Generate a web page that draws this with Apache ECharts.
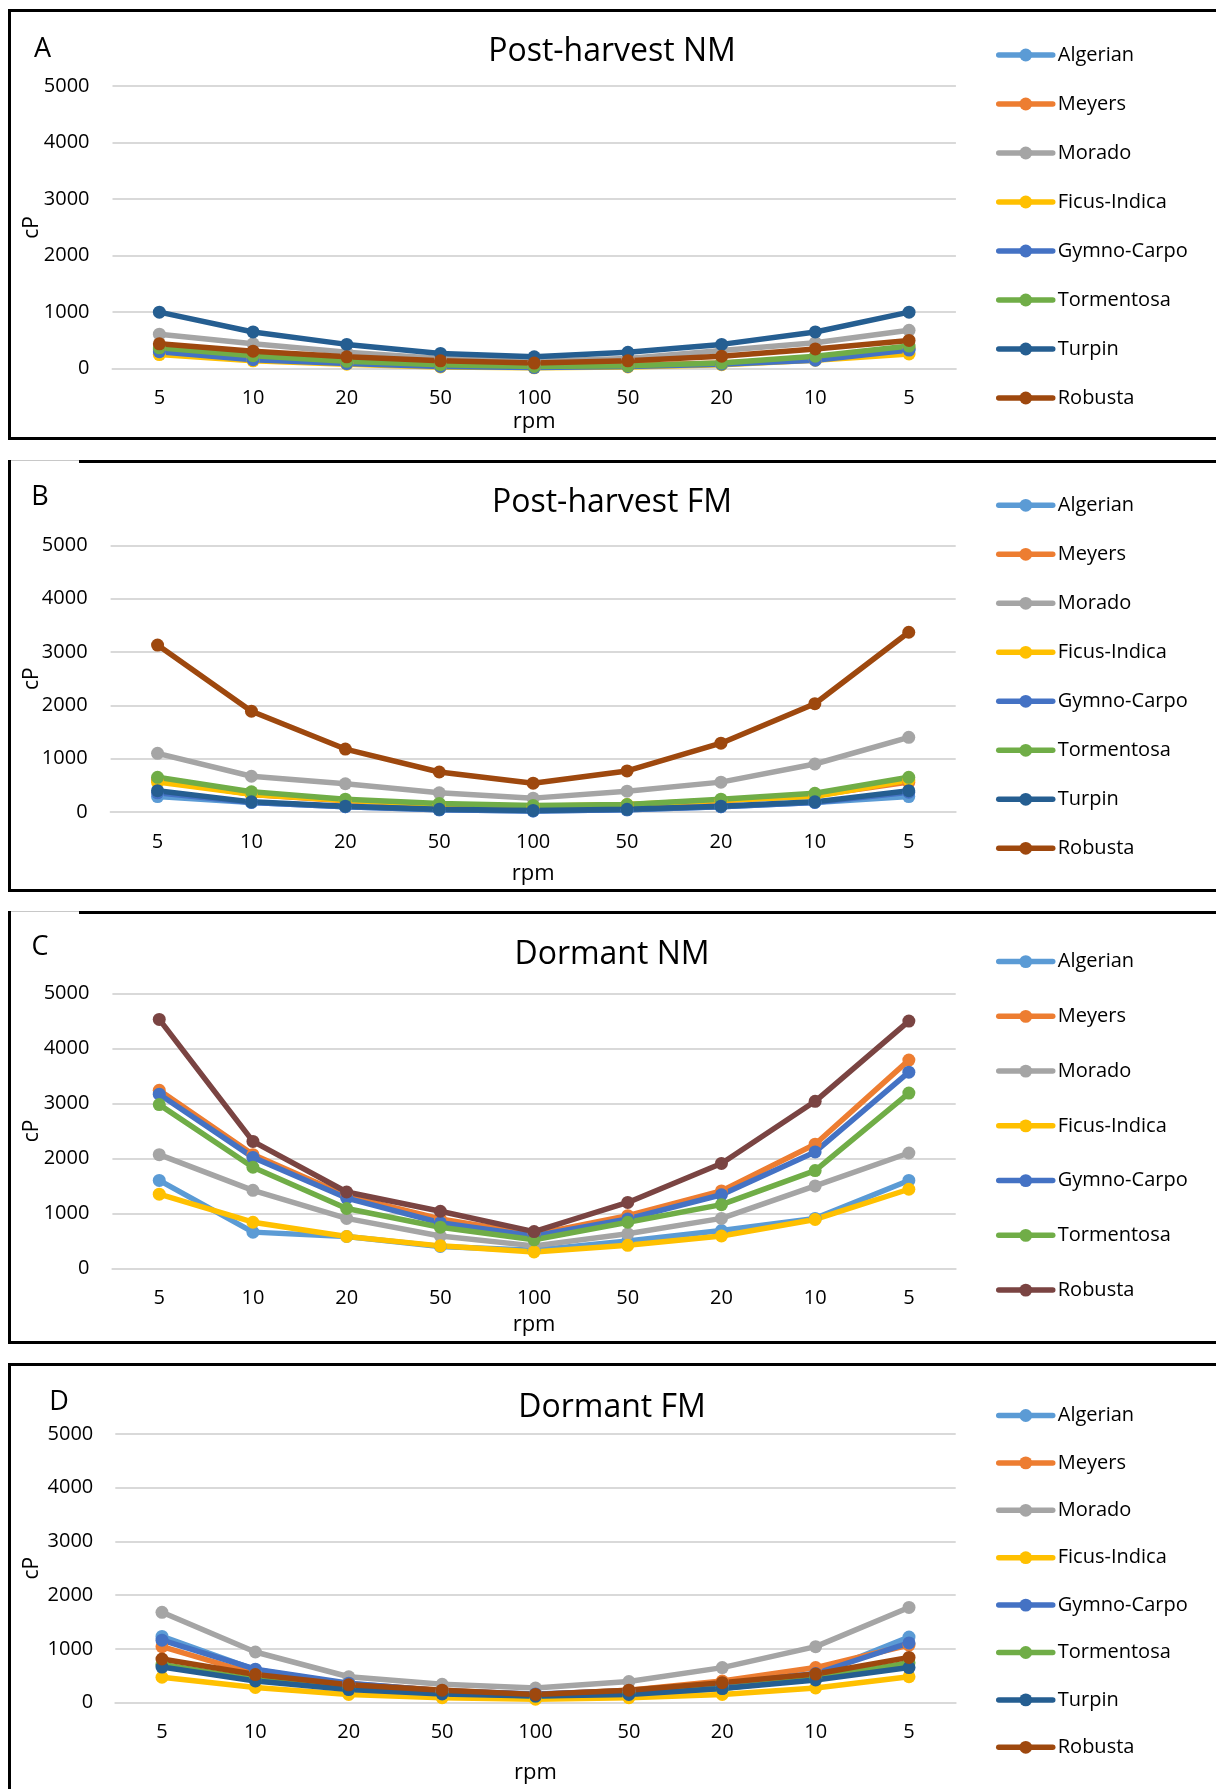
<!DOCTYPE html>
<html>
<head>
<meta charset="utf-8">
<title>Viscosity vs rpm</title>
<script src="https://cdn.jsdelivr.net/npm/echarts@6/dist/echarts.min.js"></script>
<style>
  html, body { margin: 0; padding: 0; background: #fff; width: 1216px; height: 1789px; overflow: hidden; }
  body { position: relative; }
  .box { position: absolute; left: 8px; width: 1300px; border: 3px solid #000; box-sizing: border-box; }
  .gap { position: absolute; left: 11px; width: 68px; height: 3px; background: #fff; border-top: 1px solid #C8C8C8; box-sizing: border-box; }
  .chart { position: absolute; left: 0; width: 1216px; }
</style>
</head>
<body>
<div class="box" style="top:9px;height:431px"></div>
<div class="box" style="top:460px;height:432px"></div>
<div class="gap" style="top:460px"></div>
<div class="box" style="top:911px;height:433px"></div>
<div class="gap" style="top:911px"></div>
<div class="box" style="top:1363px;height:500px"></div>

<div id="panelA" class="chart" style="top:0;height:450px"></div>
<div id="panelB" class="chart" style="top:450px;height:450px"></div>
<div id="panelC" class="chart" style="top:900px;height:450px"></div>
<div id="panelD" class="chart" style="top:1350px;height:439px"></div>

<script>
// Spindle speed sequence (up and back down), rpm
const rpmLabels = ['5', '10', '20', '50', '100', '50', '20', '10', '5'];

// Post-harvest NM (cP)
const algerianA   = [330, 170, 100, 50, 30, 50, 90, 160, 350];
const meyersA     = [350, 190, 110, 60, 40, 60, 100, 180, 370];
const moradoA     = [610, 440, 290, 180, 130, 180, 320, 460, 680];
const ficusA      = [250, 140, 80, 30, 15, 30, 70, 150, 260];
const gymnoA      = [300, 160, 90, 40, 20, 40, 80, 150, 330];
const tormentosaA = [370, 230, 130, 70, 40, 50, 100, 220, 400];
const turpinA     = [1000, 650, 430, 270, 210, 290, 430, 650, 1000];
const robustaA    = [440, 310, 210, 140, 100, 140, 220, 350, 500];

// Post-harvest FM (cP)
const algerianB   = [290, 180, 100, 40, 20, 40, 100, 180, 290];
const meyersB     = [600, 330, 210, 140, 100, 130, 210, 310, 560];
const moradoB     = [1100, 670, 530, 360, 260, 390, 560, 900, 1400];
const ficusB      = [560, 330, 220, 140, 110, 140, 220, 290, 600];
const gymnoB      = [360, 180, 100, 40, 20, 40, 100, 180, 370];
const tormentosaB = [650, 380, 240, 160, 120, 140, 240, 350, 650];
const turpinB     = [400, 190, 110, 50, 30, 50, 110, 190, 400];
const robustaB    = [3130, 1890, 1180, 750, 540, 770, 1290, 2030, 3370];

// Dormant NM (cP)
const algerianC   = [1600, 660, 580, 400, 330, 500, 690, 910, 1600];
const meyersC     = [3240, 2070, 1320, 900, 620, 960, 1410, 2260, 3790];
const moradoC     = [2070, 1420, 910, 590, 410, 630, 910, 1500, 2100];
const ficusC      = [1350, 840, 580, 410, 300, 420, 590, 890, 1440];
const gymnoC      = [3170, 2020, 1280, 830, 590, 900, 1340, 2120, 3570];
const tormentosaC = [2980, 1840, 1090, 750, 520, 840, 1160, 1780, 3190];
const robustaC    = [4530, 2310, 1390, 1040, 670, 1200, 1910, 3040, 4500];

// Dormant FM (cP)
const algerianD   = [1230, 610, 340, 210, 150, 210, 300, 520, 1220];
const meyersD     = [1040, 530, 350, 230, 150, 230, 400, 650, 1070];
const moradoD     = [1680, 940, 480, 340, 270, 390, 650, 1040, 1770];
const ficusD      = [470, 280, 150, 90, 60, 90, 150, 270, 480];
const gymnoD      = [1160, 620, 360, 220, 160, 220, 340, 540, 1110];
const tormentosaD = [710, 430, 260, 180, 120, 170, 260, 450, 740];
const turpinD     = [660, 400, 240, 160, 120, 150, 260, 420, 650];
const robustaD    = [810, 520, 330, 230, 150, 230, 370, 530, 840];

const yTicks = { min: 0, max: 5000, interval: 1000 };

const COLORS = {
  Algerian: '#5B9BD5', Meyers: '#ED7D31', Morado: '#A5A5A5', 'Ficus-Indica': '#FFC000',
  'Gymno-Carpo': '#4472C4', Tormentosa: '#70AD47', Turpin: '#255E91', Robusta: '#9E480E'
};
const FONT = '"Open Sans", "Noto Sans", sans-serif';

function lineSeries(name, data, color) {
  return {
    name, type: 'line', data,
    symbol: 'circle', symbolSize: 13, showAllSymbol: true,
    itemStyle: { color },
    lineStyle: { color, width: 5.5, cap: 'round', join: 'round' },
    emphasis: { disabled: true }
  };
}

function panelOption(p) {
  const names = p.series.map(s => s[0]);
  return {
    animation: false,
    textStyle: { fontFamily: FONT },
    graphic: [
      { type: 'text', x: p.letterX, y: p.letterY,
        style: { text: p.letter, fontSize: 27, fontFamily: FONT, fill: '#000', align: 'center', verticalAlign: 'middle' } },
      { type: 'text', x: 612, y: p.titleY,
        style: { text: p.title, fontSize: 32, fontFamily: FONT, fill: '#000', align: 'center', verticalAlign: 'middle' } }
    ],
    grid: { left: p.gridLeft, top: p.gridTop, width: p.gridWidth, height: p.gridHeight },
    legend: {
      orient: 'vertical', left: 996, top: p.legendTop, padding: 0,
      itemWidth: 54, itemHeight: 16, itemGap: p.legendGap,
      lineStyle: { width: 5.5 },
      textStyle: { fontSize: 20, color: '#000', lineHeight: 20, fontFamily: FONT },
      data: names
    },
    xAxis: {
      type: 'category', data: rpmLabels, boundaryGap: true,
      axisLine: { lineStyle: { color: '#D9D9D9', width: 2 } },
      axisTick: { show: false },
      axisLabel: { color: '#000', fontSize: 20, lineHeight: 20, margin: 20, fontFamily: FONT },
      name: 'rpm', nameLocation: 'middle', nameGap: p.rpmGap, nameMoveOverlap: false,
      nameTextStyle: { fontSize: 22, color: '#000', fontFamily: FONT }
    },
    yAxis: {
      type: 'value', min: yTicks.min, max: yTicks.max, interval: yTicks.interval,
      axisLine: { show: false }, axisTick: { show: false },
      axisLabel: { color: '#000', fontSize: 20, margin: p.yLabelMargin, fontFamily: FONT,
                   formatter: v => String(v) },
      splitLine: { lineStyle: { color: '#D9D9D9', width: 2 } },
      name: 'cP', nameLocation: 'middle', nameRotate: 90, nameGap: p.cpGap, nameMoveOverlap: false,
      nameTextStyle: { fontSize: 21, color: '#000', fontFamily: FONT }
    },
    series: p.series.map(s => lineSeries(s[0], s[1], s[2]))
  };
}

const panels = [
  { id: 'panelA', letter: 'A', letterX: 42.5, letterY: 49, title: 'Post-harvest NM', titleY: 52,
    gridLeft: 112.5, gridTop: 86, gridWidth: 843.4, gridHeight: 282.7,
    legendTop: 45, legendGap: 29, rpmGap: 42, cpGap: 70, yLabelMargin: 23,
    series: [
      ['Algerian', algerianA, COLORS.Algerian], ['Meyers', meyersA, COLORS.Meyers],
      ['Morado', moradoA, COLORS.Morado], ['Ficus-Indica', ficusA, COLORS['Ficus-Indica']],
      ['Gymno-Carpo', gymnoA, COLORS['Gymno-Carpo']], ['Tormentosa', tormentosaA, COLORS.Tormentosa],
      ['Turpin', turpinA, COLORS.Turpin], ['Robusta', robustaA, COLORS.Robusta]
    ] },
  { id: 'panelB', letter: 'B', letterX: 40, letterY: 47.5, title: 'Post-harvest FM', titleY: 53,
    gridLeft: 110.6, gridTop: 95.3, gridWidth: 845.1, gridHeight: 266.7,
    legendTop: 45.3, legendGap: 29, rpmGap: 50.5, cpGap: 68, yLabelMargin: 23,
    series: [
      ['Algerian', algerianB, COLORS.Algerian], ['Meyers', meyersB, COLORS.Meyers],
      ['Morado', moradoB, COLORS.Morado], ['Ficus-Indica', ficusB, COLORS['Ficus-Indica']],
      ['Gymno-Carpo', gymnoB, COLORS['Gymno-Carpo']], ['Tormentosa', tormentosaB, COLORS.Tormentosa],
      ['Turpin', turpinB, COLORS.Turpin], ['Robusta', robustaB, COLORS.Robusta]
    ] },
  { id: 'panelC', letter: 'C', letterX: 40, letterY: 47.5, title: 'Dormant NM', titleY: 55,
    gridLeft: 112.4, gridTop: 93.6, gridWidth: 843.3, gridHeight: 274.8,
    legendTop: 51.6, legendGap: 34.75, rpmGap: 45.5, cpGap: 70, yLabelMargin: 23,
    series: [
      ['Algerian', algerianC, COLORS.Algerian], ['Meyers', meyersC, COLORS.Meyers],
      ['Morado', moradoC, COLORS.Morado], ['Ficus-Indica', ficusC, COLORS['Ficus-Indica']],
      ['Gymno-Carpo', gymnoC, COLORS['Gymno-Carpo']], ['Tormentosa', tormentosaC, COLORS.Tormentosa],
      ['Robusta', robustaC, '#7A4442']
    ] },
  { id: 'panelD', letter: 'D', letterX: 59, letterY: 52, title: 'Dormant FM', titleY: 58,
    gridLeft: 115.3, gridTop: 84, gridWidth: 840.4, gridHeight: 272,
    legendTop: 55.5, legendGap: 27.4, rpmGap: 59.5, cpGap: 73, yLabelMargin: 22,
    series: [
      ['Algerian', algerianD, COLORS.Algerian], ['Meyers', meyersD, COLORS.Meyers],
      ['Morado', moradoD, COLORS.Morado], ['Ficus-Indica', ficusD, COLORS['Ficus-Indica']],
      ['Gymno-Carpo', gymnoD, COLORS['Gymno-Carpo']], ['Tormentosa', tormentosaD, COLORS.Tormentosa],
      ['Turpin', turpinD, COLORS.Turpin], ['Robusta', robustaD, COLORS.Robusta]
    ] }
];

panels.forEach(p => {
  const chart = echarts.init(document.getElementById(p.id), null, { renderer: 'canvas' });
  chart.setOption(panelOption(p));
});
</script>
</body>
</html>
